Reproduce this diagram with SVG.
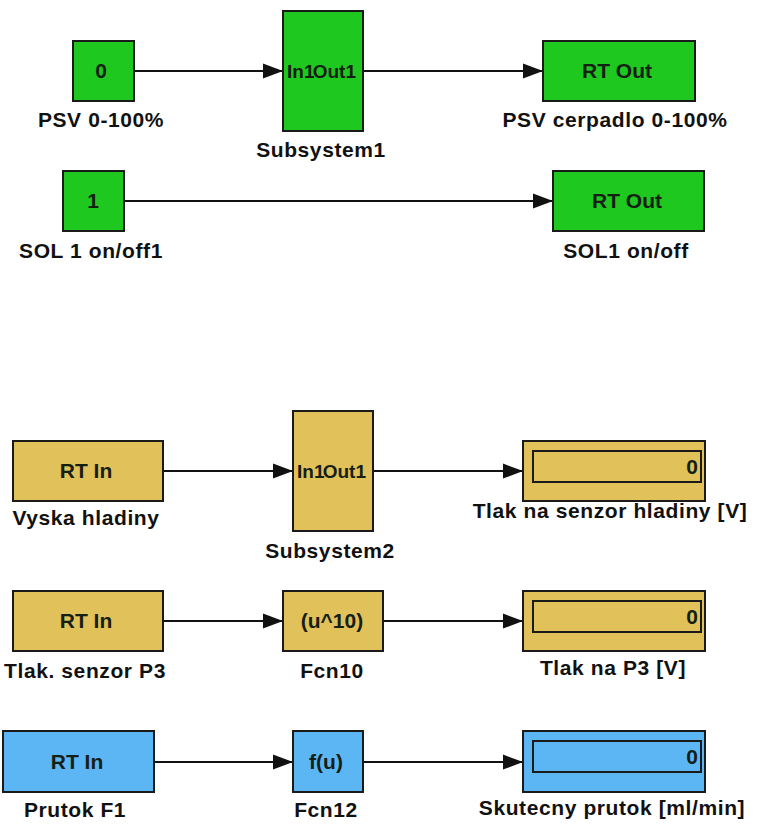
<svg xmlns="http://www.w3.org/2000/svg" width="757" height="824" viewBox="0 0 757 824">
<style>
.g{fill:#1fc81f;stroke:#1a1a1a;stroke-width:2}
.y{fill:#e1c25a;stroke:#1a1a1a;stroke-width:2}
.b{fill:#5cb6f4;stroke:#1a1a1a;stroke-width:2}
.in{fill:none;stroke:#1a1a1a;stroke-width:2}
.lbl{font-family:"Liberation Sans",Arial,sans-serif;font-weight:bold;font-size:21px;letter-spacing:0.6px;fill:#111;text-anchor:middle}
.t{font-family:"Liberation Sans",Arial,sans-serif;font-weight:bold;font-size:21px;fill:#152015;text-anchor:middle}
.ts{font-family:"Liberation Sans",Arial,sans-serif;font-weight:bold;font-size:19px;fill:#152015}
.w{fill:none;stroke:#111;stroke-width:2}
</style>
<defs>
<marker id="ah" markerWidth="20" markerHeight="16" refX="20" refY="8" orient="auto" markerUnits="userSpaceOnUse" viewBox="0 0 20 16"><path d="M0,0.5 L20,8 L0,15.5 z" fill="#111"/></marker>
</defs>
<rect width="757" height="824" fill="#fff"/>
<g id="connectors">
<line class="w" x1="134" y1="71" x2="283" y2="71" marker-end="url(#ah)"/>
<line class="w" x1="363" y1="71" x2="543" y2="71" marker-end="url(#ah)"/>
<line class="w" x1="124" y1="201" x2="553" y2="201" marker-end="url(#ah)"/>
<line class="w" x1="163" y1="471" x2="293" y2="471" marker-end="url(#ah)"/>
<line class="w" x1="373" y1="471" x2="523" y2="471" marker-end="url(#ah)"/>
<line class="w" x1="163" y1="621" x2="283" y2="621" marker-end="url(#ah)"/>
<line class="w" x1="383" y1="621" x2="523" y2="621" marker-end="url(#ah)"/>
<line class="w" x1="154" y1="762" x2="293" y2="762" marker-end="url(#ah)"/>
<line class="w" x1="363" y1="762" x2="523" y2="762" marker-end="url(#ah)"/>
</g>
<g id="psv_const">
<rect class="g" x="73" y="41" width="61" height="60"/>
<text class="t" x="101" y="78">0</text>
<text class="lbl" x="101" y="127">PSV 0-100%</text>
</g>
<g id="subsystem1">
<rect class="g" x="283" y="11" width="80" height="120"/>
<text class="ts" x="287" y="78">In1</text>
<text class="ts" x="356" y="78" text-anchor="end">Out1</text>
<text class="lbl" x="321" y="157">Subsystem1</text>
</g>
<g id="psv_out">
<rect class="g" x="543" y="41" width="152" height="60"/>
<text class="t" x="617" y="78">RT Out</text>
<text class="lbl" x="615" y="127">PSV cerpadlo 0-100%</text>
</g>
<g id="sol_const">
<rect class="g" x="63" y="171" width="61" height="60"/>
<text class="t" x="93" y="208">1</text>
<text class="lbl" x="91" y="258">SOL 1 on/off1</text>
</g>
<g id="sol_out">
<rect class="g" x="553" y="171" width="151" height="60"/>
<text class="t" x="627" y="208">RT Out</text>
<text class="lbl" x="626" y="258">SOL1 on/off</text>
</g>
<g id="vyska_in">
<rect class="y" x="13" y="441" width="150" height="60"/>
<text class="t" x="86" y="478">RT In</text>
<text class="lbl" x="86" y="525">Vyska hladiny</text>
</g>
<g id="subsystem2">
<rect class="y" x="293" y="411" width="80" height="120"/>
<text class="ts" x="297" y="478">In1</text>
<text class="ts" x="366" y="478" text-anchor="end">Out1</text>
<text class="lbl" x="330" y="558">Subsystem2</text>
</g>
<g id="tlak_senzor_display">
<rect class="y" x="523" y="441" width="182" height="60"/>
<rect class="in" x="533" y="451" width="168" height="31"/>
<text class="t" x="692" y="474" text-anchor="end">0</text>
<text class="lbl" x="610" y="518">Tlak na senzor hladiny [V]</text>
</g>
<g id="p3_in">
<rect class="y" x="13" y="591" width="150" height="60"/>
<text class="t" x="86" y="628">RT In</text>
<text class="lbl" x="85" y="678">Tlak. senzor P3</text>
</g>
<g id="fcn10">
<rect class="y" x="283" y="591" width="100" height="60"/>
<text class="t" x="332" y="628">(u^10)</text>
<text class="lbl" x="332" y="678">Fcn10</text>
</g>
<g id="p3_display">
<rect class="y" x="523" y="591" width="182" height="60"/>
<rect class="in" x="533" y="601" width="168" height="31"/>
<text class="t" x="692" y="624" text-anchor="end">0</text>
<text class="lbl" x="613" y="675">Tlak na P3 [V]</text>
</g>
<g id="prutok_in">
<rect class="b" x="3" y="731" width="151" height="61"/>
<text class="t" x="77" y="769">RT In</text>
<text class="lbl" x="75" y="817">Prutok F1</text>
</g>
<g id="fcn12">
<rect class="b" x="293" y="731" width="70" height="61"/>
<text class="t" x="326" y="769">f(u)</text>
<text class="lbl" x="326" y="817">Fcn12</text>
</g>
<g id="prutok_display">
<rect class="b" x="523" y="731" width="182" height="61"/>
<rect class="in" x="533" y="741" width="168" height="31"/>
<text class="t" x="692" y="764" text-anchor="end">0</text>
<text class="lbl" x="612" y="815">Skutecny prutok [ml/min]</text>
</g>
</svg>
